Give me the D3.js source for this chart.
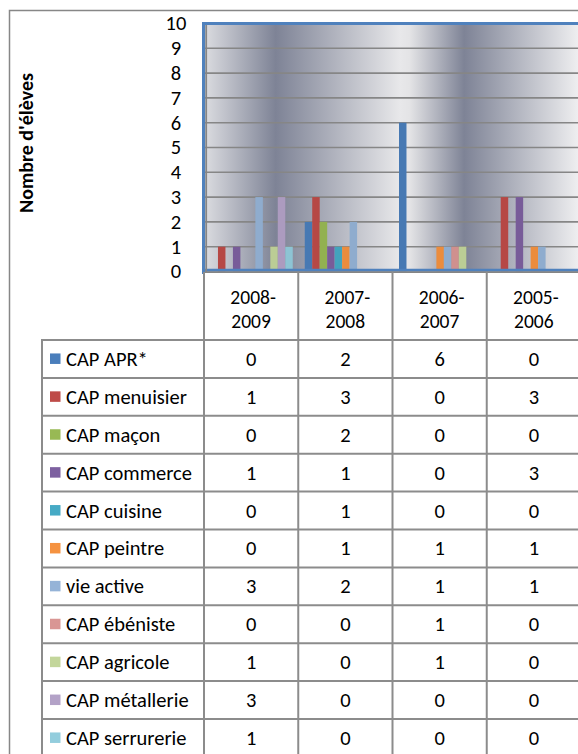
<!DOCTYPE html>
<html>
<head>
<meta charset="utf-8">
<script src="https://d3js.org/d3.v7.min.js"></script>
<style>
  html, body { margin: 0; padding: 0; background: #fff; }
  svg { display: block; }
</style>
</head>
<body>
<div id="chart"></div>
<script>
// School years (columns) and the series shown in the data table
const categories = ['2008-2009', '2007-2008', '2006-2007', '2005-2006'];
const seriesNames = ['CAP APR*', 'CAP menuisier', 'CAP maçon', 'CAP commerce', 'CAP cuisine',
  'CAP peintre', 'vie active', 'CAP ébéniste', 'CAP agricole', 'CAP métallerie', 'CAP serrurerie'];

// Values per series, in the same order as categories
const capApr = [0, 2, 6, 0];
const capMenuisier = [1, 3, 0, 3];
const capMacon = [0, 2, 0, 0];
const capCommerce = [1, 1, 0, 3];
const capCuisine = [0, 1, 0, 0];
const capPeintre = [0, 1, 1, 1];
const vieActive = [3, 2, 1, 1];
const capEbeniste = [0, 0, 1, 0];
const capAgricole = [1, 0, 1, 0];
const capMetallerie = [3, 0, 0, 0];
const capSerrurerie = [1, 0, 0, 0];

const yTicks = [0, 1, 2, 3, 4, 5, 6, 7, 8, 9, 10];
const yTitle = "Nombre d'élèves";

const seriesValues = [capApr, capMenuisier, capMacon, capCommerce, capCuisine, capPeintre,
  vieActive, capEbeniste, capAgricole, capMetallerie, capSerrurerie];

const colors = ['#4a7ebb', '#be4b48', '#98b954', '#7d60a0', '#46aac5', '#f59240',
  '#95b3d7', '#d99694', '#c3d69b', '#b3a2c7', '#93cddd'];

const W = 578, H = 754;
const font = 'Carlito, Calibri, Lato, sans-serif';
const fs = 20.5;

const svg = d3.select('#chart').append('svg')
  .attr('width', W).attr('height', H)
  .attr('viewBox', `0 0 ${W} ${H}`);

// Layout
const plotL = 204, plotR = 581, plotT = 23.5, plotB = 271.5;
const headT = 272, headB = 340, rowH = 37.9, legendL = 42;

const x0 = d3.scaleBand().domain(categories).range([plotL, plotR]).paddingInner(0).paddingOuter(0);
const x1 = d3.scaleBand().domain(d3.range(seriesNames.length)).range([6.5, x0.bandwidth() - 5.5]).padding(0);
const y = d3.scaleLinear().domain([0, 10]).range([plotB, plotT]);
const rows = d3.scaleBand().domain(seriesNames).range([headB, headB + rowH * seriesNames.length]);

// Background gradient
const defs = svg.append('defs');
const grad = defs.append('linearGradient').attr('id', 'bg')
  .attr('gradientUnits', 'userSpaceOnUse')
  .attr('x1', plotL).attr('x2', plotR).attr('y1', 0).attr('y2', 0);
[[0, '#dcdde1'], [0.19, '#7e8396'], [0.52, '#e8e8ea'], [0.545, '#e4e4e6'], [0.69, '#7e8396'], [1, '#f1f1f2']]
  .forEach(s => grad.append('stop').attr('offset', s[0]).attr('stop-color', s[1]));

// Outer chart border
svg.append('path')
  .attr('d', `M9.5,${H + 5}V10.5H${W + 5}`)
  .attr('fill', 'none').attr('stroke', '#878787').attr('stroke-width', 1.5);

// Plot area
svg.append('rect')
  .attr('x', plotL).attr('y', plotT).attr('width', plotR - plotL).attr('height', plotB - plotT)
  .attr('fill', 'url(#bg)');

// Gridlines
svg.append('g').selectAll('line')
  .data(yTicks.filter(t => t > 0 && t < 10)).enter().append('line')
  .attr('x1', plotL).attr('x2', plotR)
  .attr('y1', d => y(d)).attr('y2', d => y(d))
  .attr('stroke', '#868686').attr('stroke-width', 1.6);

// Bars
const barG = svg.append('g');
seriesValues.forEach((vals, si) => {
  barG.append('g').selectAll('rect')
    .data(vals.map((v, ci) => ({ v, cat: categories[ci] })).filter(d => d.v > 0))
    .enter().append('rect')
    .attr('x', d => x0(d.cat) + x1(si))
    .attr('y', d => y(d.v))
    .attr('width', x1.bandwidth())
    .attr('height', d => y(0) - y(d.v))
    .attr('fill', d3.color(colors[si]).darker(0.12));
});

// Blue plot border and grey axis lines
svg.append('path')
  .attr('d', `M203.5,274V${plotT}H${plotR + 5}M203,270.2H${plotR + 5}`)
  .attr('fill', 'none').attr('stroke', '#4f81bd').attr('stroke-width', 3);
svg.append('path')
  .attr('d', `M206.2,${plotT + 1.5}V272.5M205,272.2H${plotR + 5}`)
  .attr('fill', 'none').attr('stroke', '#858585').attr('stroke-width', 1.8);

// Y tick labels
svg.append('g').selectAll('text')
  .data(yTicks).enter().append('text')
  .attr('x', 176).attr('y', d => y(d))
  .attr('dy', '0.34em')
  .attr('text-anchor', 'middle')
  .attr('font-family', font).attr('font-size', fs).attr('fill', '#000')
  .text(d => d);

// Y title
svg.append('text')
  .attr('transform', `translate(33,143) rotate(-90)`)
  .attr('text-anchor', 'middle')
  .attr('font-family', font).attr('font-size', 20).attr('font-weight', 700)
  .text(yTitle);

// Data table lines
const tableB = headB + rowH * seriesNames.length;
const lines = svg.append('g').attr('stroke', '#8c8c8c').attr('stroke-width', 2).attr('fill', 'none');
categories.forEach(c => {
  lines.append('line').attr('x1', x0(c)).attr('x2', x0(c)).attr('y1', headT).attr('y2', tableB);
});
lines.append('line').attr('x1', plotR).attr('x2', plotR).attr('y1', headT).attr('y2', tableB);
lines.append('line').attr('x1', legendL).attr('x2', legendL).attr('y1', headB).attr('y2', tableB);
seriesNames.concat(['_end']).forEach((s, i) => {
  const yy = headB + i * rowH;
  lines.append('line').attr('x1', legendL - 1).attr('x2', plotR + 5).attr('y1', yy).attr('y2', yy);
});

// Header labels (two lines)
const head = svg.append('g').attr('font-family', font).attr('font-size', 19.5).attr('text-anchor', 'middle');
categories.forEach(c => {
  const parts = c.split('-');
  const cx = x0(c) + x0.bandwidth() / 2;
  head.append('text').attr('x', cx + 2).attr('y', 297).attr('dy', '0.34em').text(parts[0] + '-');
  head.append('text').attr('x', cx).attr('y', 321.5).attr('dy', '0.34em').text(parts[1]);
});

// Legend keys and values
const rowG = svg.append('g').attr('font-family', font).attr('font-size', fs);
seriesNames.forEach((name, si) => {
  const cy = rows(name) + rows.bandwidth() / 2;
  rowG.append('rect').attr('x', 50).attr('y', cy - 5.5).attr('width', 10.5).attr('height', 10.5)
    .attr('fill', colors[si]);
  rowG.append('text').attr('x', 66).attr('y', cy).attr('dy', '0.34em').text(name);
  categories.forEach((c, ci) => {
    rowG.append('text')
      .attr('x', x0(c) + x0.bandwidth() / 2).attr('y', cy).attr('dy', '0.34em')
      .attr('text-anchor', 'middle')
      .text(seriesValues[si][ci]);
  });
});
</script>
</body>
</html>
